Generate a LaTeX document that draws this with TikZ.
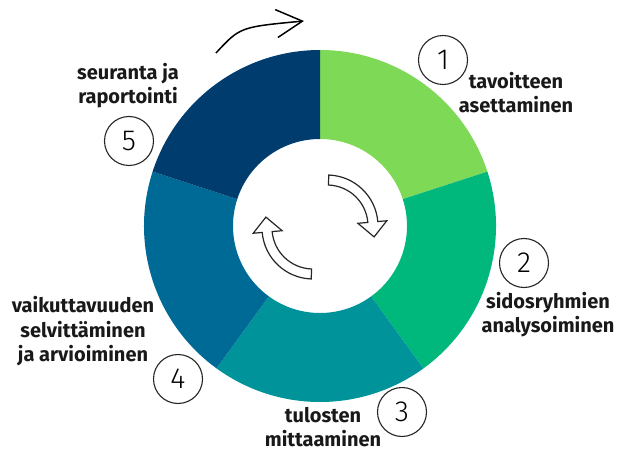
\documentclass[tikz,border=0pt]{standalone}
\usepackage{fontspec}
\setmainfont{Fira Sans}
\newfontfamily\numfont{Fira Sans Light}
\usetikzlibrary{arrows.meta}
\definecolor{stepone}{HTML}{7ED957}
\definecolor{steptwo}{HTML}{00B87C}
\definecolor{stepthree}{HTML}{00949A}
\definecolor{stepfour}{HTML}{006A96}
\definecolor{stepfive}{HTML}{003D6E}
\begin{document}
\begin{tikzpicture}[x=1pt,y=1pt,
    phase/.style={font=\fontsize{20}{24.5}\selectfont\bfseries,text=black!90,align=center,inner sep=0pt},
    number/.style={circle,draw=black!85,fill=white,line width=1.1pt,minimum size=49pt,inner sep=0pt,font=\numfont\fontsize{29}{29}\selectfont},
    turn/.style={draw=black!85,fill=white,line width=1.2pt,line join=miter}]
    \useasboundingbox (0,0) rectangle (617,450);
    % ring of five phases
    \begin{scope}[shift={(320,224)}]
        \fill[stepone] (90:176) arc[start angle=90,end angle=18,radius=176] -- (18:87) arc[start angle=18,end angle=90,radius=87] -- cycle;
        \fill[steptwo] (18:176) arc[start angle=18,end angle=-54,radius=176] -- (-54:87) arc[start angle=-54,end angle=18,radius=87] -- cycle;
        \fill[stepthree] (-54:176) arc[start angle=-54,end angle=-126,radius=176] -- (-126:87) arc[start angle=-126,end angle=-54,radius=87] -- cycle;
        \fill[stepfour] (-126:176) arc[start angle=-126,end angle=-198,radius=176] -- (162:87) arc[start angle=162,end angle=234,radius=87] -- cycle;
        \fill[stepfive] (162:176) arc[start angle=162,end angle=90,radius=176] -- (90:87) arc[start angle=90,end angle=162,radius=87] -- cycle;
    \end{scope}
    % turning arrows in the middle
    \begin{scope}[shift={(327,224)}]
        \draw[turn] (88:51) arc[start angle=88,end angle=5,radius=51] -- (5:60) -- (47.1,-10.9) -- (5:31) -- (5:41) arc[start angle=5,end angle=88,radius=41] -- cycle;
    \end{scope}
    \begin{scope}[shift={(313,222)}]
        \draw[turn] (268:51) arc[start angle=268,end angle=185,radius=51] -- (185:60) -- (-47.1,10.9) -- (185:31) -- (185:41) arc[start angle=185,end angle=268,radius=41] -- cycle;
    \end{scope}
    % direction arrow on top
    \coordinate (from) at (216,397);
    \coordinate (to) at (304,429);
    \draw[line width=1.5pt,-{Straight Barb[length=26pt,width=28pt]}] (from) .. controls (240,423) .. (to);
    % numbers
    \node[number] (n1) at (443,390) {1};
    \node[number] (n2) at (524,187) {2};
    \node[number] (n3) at (402,38) {3};
    \node[number] (n4) at (178,71) {4};
    \node[number] (n5) at (129,309) {5};
    % phase names
    \node[phase] (p1) at (516,357.5) {tavoitteen\\asettaminen};
    \node[phase] (p2) at (548,135.5) {sidosryhmien\\analysoiminen};
    \node[phase] (p3) at (323,23) {tulosten\\mittaaminen};
    \node[phase] (p4) at (83,118.5) {vaikuttavuuden\\selvittäminen\\ja arvioiminen};
    \node[phase] (p5) at (128,364.5) {seuranta ja\\raportointi};
\end{tikzpicture}
\end{document}
